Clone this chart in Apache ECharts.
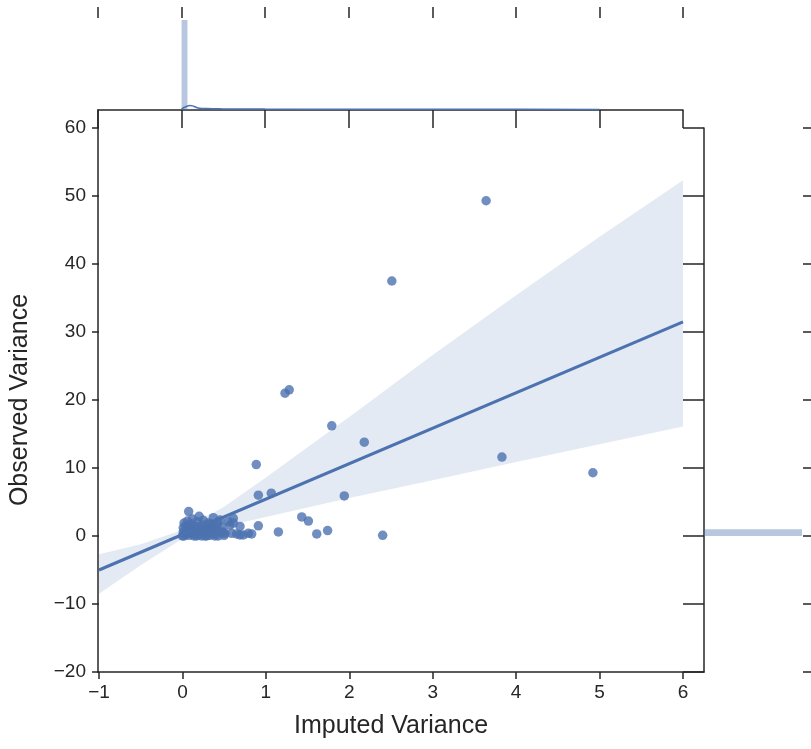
<!DOCTYPE html>
<html>
<head>
<meta charset="utf-8">
<script src="https://cdn.jsdelivr.net/npm/echarts@6/dist/echarts.min.js"></script>
<style>
  html, body { margin: 0; padding: 0; background: #ffffff; }
  #chart { width: 811px; height: 749px; }
</style>
</head>
<body>
<div id="chart"></div>
<script>
// Per-gene variances: imputed (x) vs observed (y)
const imputedVariance = [
  3.64, 2.51, 1.23, 1.28, 1.79, 2.18, 0.885, 3.83, 4.92, 0.91, 1.065, 1.94,
  1.43, 1.51, 0.91, 1.15, 1.61, 1.74, 2.40,
  0.55, 0.57, 0.61, 0.61, 0.69, 0.69, 0.73, 0.79, 0.83, 0.65, 0.59, 0.51, 0.49,
  0.02, 0.03, 0.05, 0.04, 0.06, 0.075, 0.08, 0.10, 0.10, 0.11, 0.12, 0.14,
  0.15, 0.16, 0.18, 0.20, 0.20, 0.22, 0.24, 0.25, 0.27, 0.28, 0.30, 0.31,
  0.33, 0.35, 0.37, 0.36, 0.38, 0.40, 0.42, 0.43, 0.45, 0.45, 0.47, 0.50,
  0.01, 0.01, 0.00, 0.02, 0.07, 0.09, 0.13, 0.17, 0.19, 0.23, 0.26, 0.29,
  0.32, 0.34, 0.39, 0.41
];
const observedVariance = [
  49.3, 37.5, 21.0, 21.5, 16.2, 13.8, 10.5, 11.6, 9.3, 6.0, 6.3, 5.9,
  2.8, 2.2, 1.5, 0.6, 0.3, 0.8, 0.1,
  2.1, 1.6, 2.6, 1.9, 1.4, 0.15, 0.15, 0.4, 0.3, 0.3, 0.4, 0.4, 0.6,
  0.0, 0.3, 0.8, 1.5, 2.2, 3.6, 0.1, 0.5, 1.1, 1.8, 2.5, 0.0,
  0.7, 1.4, 2.1, 2.9, 0.2, 0.9, 1.6, 2.3, 0.0, 0.5, 1.2, 1.9,
  0.1, 0.8, 2.7, 1.5, 0.3, 1.0, 2.0, 0.0, 0.6, 2.35, 1.3, 0.1,
  0.6, 1.2, 0.0, 1.9, 0.4, 1.5, 0.3, 0.0, 1.1, 0.0, 1.0, 0.0,
  0.6, 1.8, 0.0, 1.4
];

// Fitted regression line and its confidence band
const fitX = [-1, 6];
const fitY = [-5.0, 31.5];
const ciX = [-1, -0.5, 0, 0.5, 1, 2, 3, 4, 5, 6];
const ciLower = [-8.5, -4.3, -0.4, 1.4, 2.8, 5.6, 8.2, 10.9, 13.5, 16.1];
const ciUpper = [-2.7, -1.2, 0.9, 4.3, 8.6, 17.5, 26.6, 35.4, 44.0, 52.3];

// Marginal distribution of imputed variance (histogram density + KDE)
const topBinStart = [0.00, 0.07, 0.14, 0.21, 0.35, 0.49, 0.84, 1.19, 1.75, 2.38, 3.57, 4.90];
const topBinEnd   = [0.07, 0.14, 0.21, 0.28, 0.42, 0.56, 0.91, 1.26, 1.82, 2.45, 3.64, 4.97];
const topDensity  = [9.78, 0.12, 0.08, 0.06, 0.05, 0.05, 0.04, 0.04, 0.03, 0.03, 0.02, 0.02];
const topKdeX = [0, 0.05, 0.1, 0.15, 0.2, 0.3, 0.5, 1, 2, 3, 4, 5];
const topKdeY = [0.12, 0.35, 0.5, 0.38, 0.22, 0.15, 0.12, 0.1, 0.09, 0.08, 0.07, 0.06];

// Marginal distribution of observed variance
const rightBinStart = [0.0];
const rightBinEnd   = [1.0];
const rightDensity  = [98];

const xTickRange = { min: -1, max: 6, step: 1 };
const yTickRange = { min: -20, max: 60, step: 10 };

const BLUE = '#4c72b0';
const INK = '#262626';
const FONT = 'Liberation Sans, Arial, sans-serif';

const minusFmt = v => (v < 0 ? '\u2212' + Math.abs(v) : String(v));

const chart = echarts.init(document.getElementById('chart'), null, { renderer: 'canvas' });

const hidden = { show: false };
const lineOff = { show: false, onZero: false };
const lineOn = { show: true, onZero: false, lineStyle: { color: INK, width: 1.5 } };
const tick = len => ({ show: true, inside: false, length: len, lineStyle: { color: INK, width: 1.5 } });
const noAxisParts = {
  axisLine: lineOff, axisTick: hidden, axisLabel: hidden, splitLine: hidden
};

const option = {
  backgroundColor: '#ffffff',
  animation: false,
  grid: [
    { left: 98, top: 110, width: 606, height: 562 },   // outer frame
    { left: 98, top: 128, width: 585, height: 544 },   // joint scatter
    { left: 98, top: 18, width: 585, height: 92 },     // top marginal
    { left: 704, top: 128, width: 99, height: 544 }    // right marginal
  ],
  xAxis: [
    { gridIndex: 0, type: 'value', min: 0, max: 1, position: 'bottom',
      axisLine: lineOn, axisTick: hidden, axisLabel: hidden, splitLine: hidden },
    { gridIndex: 1, type: 'value', min: xTickRange.min, max: xTickRange.max, interval: xTickRange.step,
      position: 'bottom',
      axisLine: lineOff,
      axisTick: tick(7),
      axisLabel: { show: true, margin: 11, color: INK, fontSize: 19, fontFamily: FONT, formatter: minusFmt },
      splitLine: hidden,
      name: 'Imputed Variance', nameLocation: 'middle', nameGap: 42,
      nameTextStyle: { color: INK, fontSize: 25, fontFamily: FONT } },
    { gridIndex: 2, type: 'value', min: xTickRange.min, max: xTickRange.max, interval: xTickRange.step,
      position: 'bottom',
      axisLine: lineOn, axisTick: tick(18), axisLabel: hidden, splitLine: hidden },
    { gridIndex: 2, type: 'value', min: xTickRange.min, max: xTickRange.max, interval: xTickRange.step,
      position: 'top',
      axisLine: lineOff, axisTick: tick(11), axisLabel: hidden, splitLine: hidden },
    { gridIndex: 3, type: 'value', min: 0, max: 99, ...noAxisParts }
  ],
  yAxis: [
    { gridIndex: 0, type: 'value', min: 0, max: 1, position: 'left',
      axisLine: lineOn, axisTick: hidden, axisLabel: hidden, splitLine: hidden },
    { gridIndex: 1, type: 'value', min: yTickRange.min, max: yTickRange.max, interval: yTickRange.step,
      position: 'left',
      axisLine: lineOff,
      axisTick: tick(7),
      axisLabel: { show: true, margin: 13, color: INK, fontSize: 19, fontFamily: FONT, formatter: minusFmt },
      splitLine: hidden,
      name: 'Observed Variance', nameLocation: 'middle', nameGap: 66, nameRotate: 90,
      nameTextStyle: { color: INK, fontSize: 25, fontFamily: FONT } },
    { gridIndex: 2, type: 'value', min: 0, max: 10, ...noAxisParts },
    { gridIndex: 3, type: 'value', min: yTickRange.min, max: yTickRange.max, interval: yTickRange.step,
      position: 'left',
      axisLine: lineOn, axisTick: tick(21), axisLabel: hidden, splitLine: hidden },
    { gridIndex: 3, type: 'value', min: yTickRange.min, max: yTickRange.max, interval: yTickRange.step,
      position: 'right',
      axisLine: lineOff, axisTick: tick(8), axisLabel: hidden, splitLine: hidden }
  ],
  series: [
    {
      type: 'scatter',
      xAxisIndex: 1, yAxisIndex: 1,
      symbol: 'circle', symbolSize: 9.5,
      itemStyle: { color: BLUE, opacity: 0.8 },
      data: imputedVariance.map((x, i) => [x, observedVariance[i]]),
      z: 2
    },
    {
      type: 'custom',
      xAxisIndex: 1, yAxisIndex: 1,
      data: [0],
      silent: true,
      z: 3,
      renderItem: function (params, api) {
        const pts = [];
        for (let i = 0; i < ciX.length; i++) pts.push(api.coord([ciX[i], ciUpper[i]]));
        for (let i = ciX.length - 1; i >= 0; i--) pts.push(api.coord([ciX[i], ciLower[i]]));
        return { type: 'polygon', shape: { points: pts }, style: { fill: 'rgba(76,114,176,0.15)' } };
      }
    },
    {
      type: 'line',
      xAxisIndex: 1, yAxisIndex: 1,
      data: fitX.map((x, i) => [x, fitY[i]]),
      symbol: 'none',
      lineStyle: { color: BLUE, width: 3 },
      z: 4
    },
    {
      type: 'custom',
      xAxisIndex: 2, yAxisIndex: 2,
      data: topBinStart.map((s, i) => [s, topBinEnd[i], topDensity[i]]),
      renderItem: function (params, api) {
        const p0 = api.coord([api.value(0), 0]);
        const p1 = api.coord([api.value(1), api.value(2)]);
        return { type: 'rect',
          shape: { x: p0[0], y: p1[1], width: p1[0] - p0[0], height: p0[1] - p1[1] },
          style: { fill: 'rgba(76,114,176,0.4)' } };
      },
      z: 2
    },
    {
      type: 'line',
      xAxisIndex: 2, yAxisIndex: 2,
      data: topKdeX.map((x, i) => [x, topKdeY[i]]),
      symbol: 'none', smooth: true,
      lineStyle: { color: BLUE, width: 1.5 },
      z: 3
    },
    {
      type: 'custom',
      xAxisIndex: 4, yAxisIndex: 3,
      data: rightBinStart.map((s, i) => [s, rightBinEnd[i], rightDensity[i]]),
      renderItem: function (params, api) {
        const p0 = api.coord([0, api.value(0)]);
        const p1 = api.coord([api.value(2), api.value(1)]);
        return { type: 'rect',
          shape: { x: p0[0], y: p1[1], width: p1[0] - p0[0], height: p0[1] - p1[1] },
          style: { fill: 'rgba(76,114,176,0.4)' } };
      },
      z: 2
    }
  ]
};

chart.setOption(option);
</script>
</body>
</html>
